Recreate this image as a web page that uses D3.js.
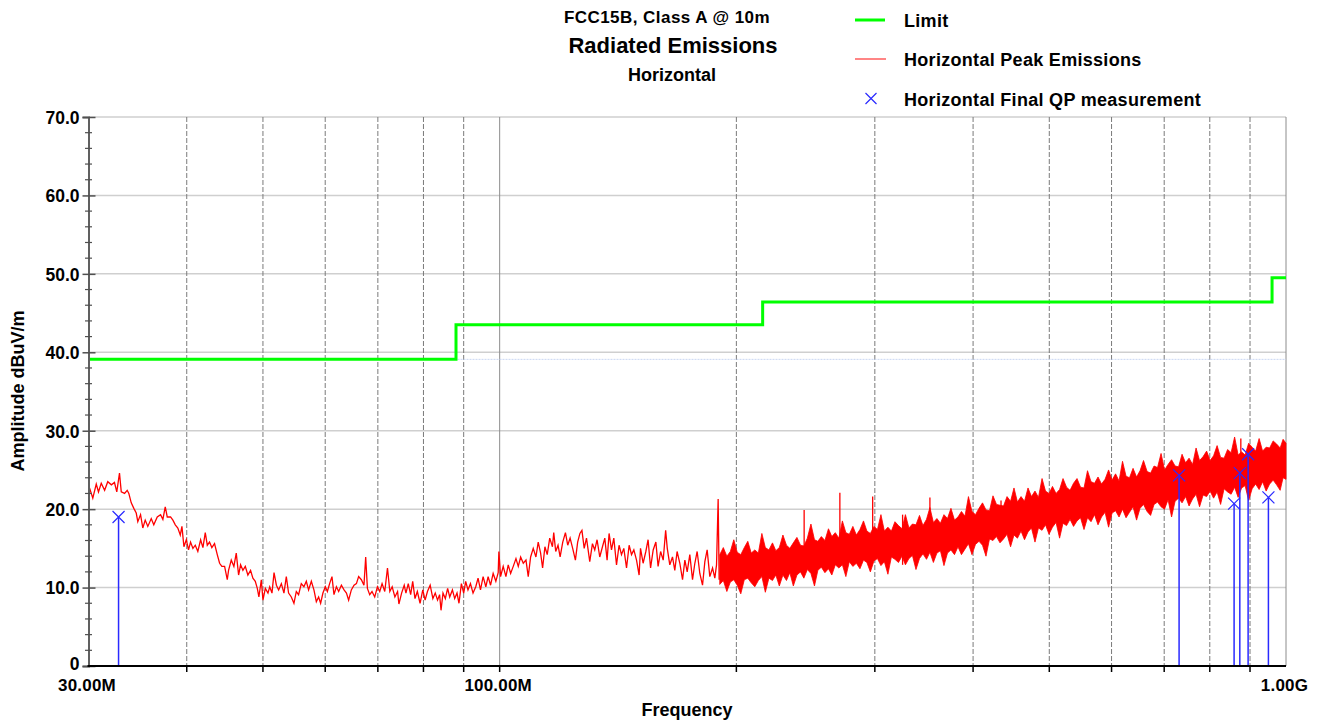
<!DOCTYPE html>
<html>
<head>
<meta charset="UTF-8">
<title>Radiated Emissions</title>
<script src="https://cdn.jsdelivr.net/npm/d3@7"></script>
<style>
body { margin: 0; background: #fff; font-family: 'Liberation Sans', Arial, sans-serif; }
svg text { font-weight: bold; fill: #000; }
</style>
</head>
<body>
<svg id="chart" width="1323" height="723"></svg>
<script>
// ---- data (frequency in MHz, level in dBuV/m) ----
const limitFreq = [30, 88, 216, 960, 1000];
const limitLevel = [39.1, 43.5, 46.4, 49.5, 49.5];

// peak trace, low band part (read point by point)
const peakFreq = [
  30.0,30.09,30.38,30.69,30.89,31.14,31.45,31.74,32.08,32.37,
  32.59,32.85,33.02,33.34,33.60,33.76,34.00,34.26,34.50,34.66,
  34.94,35.17,35.42,35.69,36.05,36.32,36.69,37.05,37.30,37.56,
  37.78,38.15,38.41,38.68,38.97,39.25,39.44,39.67,39.95,40.21,
  40.45,40.73,41.01,41.32,41.66,41.94,42.23,42.48,42.76,43.05,
  43.39,43.74,44.04,44.33,44.69,45.04,45.21,45.57,45.92,46.24,
  46.56,46.83,47.15,47.48,47.84,48.22,48.55,48.89,49.18,49.41,
  49.76,50.00,50.35,50.74,51.00,51.34,51.65,52.01,52.35,52.77,
  53.17,53.54,53.90,54.33,54.75,55.13,55.50,55.94,56.37,56.77,
  57.15,57.61,58.05,58.46,58.85,59.20,59.60,60.02,60.38,60.78,
  61.20,61.56,62.00,62.41,62.91,63.40,63.85,64.26,64.77,65.28,
  65.74,66.17,66.70,67.21,67.55,67.89,68.35,68.81,69.36,69.91,
  70.39,70.87,71.43,72.00,72.50,73.00,73.58,74.16,74.45,75.04,
  75.62,76.00,76.52,77.06,77.52,78.04,78.58,79.21,79.84,80.39,
  80.94,81.59,82.24,82.81,83.37,83.87,84.22,84.71,85.29,85.87,
  86.39,87.08,87.66,88.26,88.77,89.40,90.00,90.53,91.14,91.80,
  92.50,93.24,93.87,94.54,95.27,96.03,96.68,97.37,98.11,98.89,
  99.57,99.77,100.27,101.04,101.85,102.54,103.27,104.06,104.89,105.60,
  106.34,107.16,108.01,108.73,109.49,110.33,111.20,111.95,112.74,113.40,
  114.17,114.94,115.79,116.71,117.16,117.84,118.64,119.37,120.29,121.24,
  122.06,122.91,123.84,124.83,125.66,126.49,127.24,128.09,128.95,130.19,
  131.22,132.11,133.01,134.06,135.13,136.05,136.97,137.77,138.75,139.69,
  140.80,141.86,142.87,143.84,144.99,146.10,147.13,148.13,149.30,150.43,
  151.05,152.21,153.42,154.44,155.57,156.76,158.00,159.03,160.21,161.43,
  162.59,163.36,164.58,165.88,167.00,168.13,169.48,170.83,172.00,173.18,
  174.51,175.90,177.10,178.30,179.70,181.13,182.37,183.60,185.04,186.52,
  187.77,188.71,189.61,190.16
];
const peakLevel = [
  22.0,22.7,21.4,23.2,22.2,23.3,22.4,23.5,23.1,23.4,
  22.2,24.6,22.2,22.0,22.4,22.0,20.8,20.1,19.5,18.4,
  19.3,17.6,18.6,17.8,18.8,18.0,19.0,19.3,18.7,20.3,
  19.0,19.0,18.6,18.0,17.6,16.7,17.8,15.2,16.1,14.8,
  15.8,15.0,15.4,14.6,16.1,15.1,17.0,15.4,15.8,15.1,
  15.6,14.2,13.1,12.7,12.7,11.0,12.2,13.5,12.7,14.4,
  11.6,12.9,12.2,12.7,11.6,12.2,11.2,10.8,9.9,8.8,
  11.0,8.4,9.9,9.3,10.1,9.3,11.9,10.3,9.7,10.5,
  9.3,11.4,9.3,8.8,8.0,9.5,9.1,10.5,10.1,10.8,
  9.7,10.8,9.7,8.2,8.8,8.0,9.3,10.1,9.5,10.5,
  11.4,9.1,10.1,9.5,10.3,9.7,9.3,8.4,9.7,10.3,
  10.5,11.4,11.0,10.3,13.9,9.9,9.1,9.5,8.8,10.1,
  9.5,10.5,9.5,12.5,9.5,10.1,8.8,9.5,7.9,9.3,
  10.3,9.3,10.5,9.1,10.8,8.6,9.5,8.0,9.7,8.4,
  9.5,10.3,8.6,9.3,8.4,9.1,7.1,9.3,8.6,9.9,
  8.8,9.7,8.6,9.3,8.0,10.5,9.3,10.8,9.7,10.5,
  9.3,10.1,11.2,9.7,11.4,10.1,11.4,10.3,11.8,10.8,
  11.9,14.6,11.4,12.7,11.4,12.9,11.8,12.7,13.7,12.7,
  13.9,13.1,13.5,11.4,13.9,15.0,13.9,15.8,14.4,12.5,
  15.2,14.2,16.3,15.2,17.0,14.6,15.4,13.9,15.8,17.0,
  15.4,16.3,15.0,13.5,15.8,16.9,17.3,15.0,16.3,13.3,
  15.6,14.8,16.1,13.9,15.2,16.3,13.5,16.9,14.8,16.3,
  12.9,15.4,14.2,15.0,12.5,15.4,14.2,14.8,13.5,11.6,
  15.0,13.1,14.6,16.1,12.5,14.8,15.8,12.7,14.6,13.5,
  17.3,15.0,12.9,13.9,12.2,14.6,13.1,11.0,13.5,12.0,
  14.2,11.0,13.1,14.6,11.8,10.3,13.3,14.8,11.4,12.5,
  11.2,12.9,21.3,11.0
];

// above ~190 MHz the trace is a dense band: lower / upper edge
const bandFreq = [
  190.5,192.5,194.5,196.5,198.5,200.5,202.6,204.7,206.8,208.9,
  211.1,213.3,215.5,217.7,220.0,222.3,224.5,226.8,229.2,231.6,
  233.9,236.3,238.8,241.3,243.7,246.2,248.8,251.4,253.9,256.5,
  259.2,261.9,264.5,267.2,270.0,272.8,275.6,278.4,281.3,284.2,
  287.2,290.2,293.1,296.1,299.2,302.3,305.4,308.5,311.7,314.9,
  318.2,321.5,324.8,328.1,331.5,334.9,338.4,341.9,345.4,349.0,
  352.5,356.1,359.8,363.5,367.3,371.1,374.9,378.8,382.7,386.6,
  390.6,394.6,398.7,402.8,407.0,411.2,415.4,419.7,424.0,428.4,
  432.8,437.3,441.8,446.4,450.9,455.5,460.3,465.0,469.8,474.6,
  479.5,484.4,489.5,494.5,499.6,504.7,510.0,515.3,520.5,525.9,
  531.3,536.8,542.3,547.9,553.5,559.2,565.0,570.8,576.7,582.6,
  588.7,594.8,600.9,607.1,613.3,619.6,626.0,632.4,639.0,645.6,
  652.2,658.9,665.8,672.7,679.5,686.5,693.6,700.7,708.0,715.3,
  722.7,730.1,737.6,745.2,752.9,760.7,768.5,776.4,784.5,792.6,
  800.7,808.9,817.3,825.7,834.2,842.8,851.5,860.3,869.2,878.1,
  887.2,896.3,905.6,914.9,924.3,933.8,943.5,953.2,963.0,972.9,
  983.0,991.5,1000
];
const bandLow = [
  10.4,10.9,9.5,10.7,11.0,10.3,9.2,11.0,11.2,10.6,
  10.1,10.9,11.4,9.4,11.2,10.9,11.6,10.2,11.6,10.9,
  11.9,10.2,11.6,12.0,11.2,12.3,11.8,10.2,12.2,12.6,
  11.9,12.4,11.6,12.9,12.5,12.9,11.4,13.3,12.7,13.1,
  12.4,13.5,13.2,12.0,13.4,13.7,12.8,13.3,11.7,13.9,
  13.6,13.2,14.0,12.9,13.7,14.1,12.3,13.7,14.3,13.6,
  14.5,13.2,14.4,14.7,12.8,14.4,14.8,14.2,15.2,14.2,
  14.9,15.6,14.2,15.5,15.9,15.4,14.0,16.2,16.0,16.5,
  15.7,16.2,16.8,15.2,16.7,16.3,17.2,16.1,17.1,17.6,
  15.8,17.6,17.3,18.0,16.8,17.7,18.3,16.3,18.2,17.9,
  18.7,17.8,18.5,18.9,17.4,18.9,18.4,19.3,18.0,19.0,
  19.6,17.7,19.5,19.8,19.0,20.0,18.9,19.6,20.3,18.6,
  20.1,20.6,19.7,19.2,20.6,20.9,20.3,20.0,21.2,19.0,
  21.0,21.4,20.8,21.6,20.4,21.3,21.9,20.3,21.8,21.6,
  22.3,21.4,22.2,20.6,22.6,22.2,21.9,22.8,21.5,22.7,
  23.0,21.1,22.6,23.2,22.5,23.5,22.3,23.2,23.7,23.1,
  22.4,24.0,23.8
];
const bandHigh = [
  14.2,15.1,14.0,14.6,16.1,14.5,14.2,15.1,15.9,14.4,
  14.8,14.4,16.9,15.1,14.8,15.7,14.7,15.1,16.7,15.4,
  15.0,15.7,16.4,15.4,15.3,16.3,18.1,16.1,15.9,16.5,
  16.0,17.5,16.5,17.0,16.3,18.5,17.0,16.8,17.8,16.7,
  17.4,18.5,17.2,16.9,17.8,17.4,19.3,17.2,17.7,17.2,
  18.4,17.9,17.5,19.3,17.6,18.1,18.0,19.2,17.9,18.7,
  20.2,18.3,18.8,18.2,19.3,18.8,20.1,18.6,19.0,19.7,
  19.1,21.6,19.7,19.3,20.1,20.8,19.9,19.8,21.7,20.6,
  20.5,20.4,21.6,21.0,22.7,20.9,21.6,21.0,22.7,21.6,
  22.3,21.5,23.9,22.3,22.0,22.9,22.0,22.5,23.9,22.8,
  22.4,23.3,23.9,22.8,22.7,24.9,23.5,23.3,24.1,23.2,
  23.8,25.0,23.7,24.5,23.6,26.1,24.2,24.0,25.2,24.1,
  24.9,26.2,24.8,24.6,25.5,25.3,27.1,25.0,25.7,26.3,
  25.5,25.4,27.0,25.9,26.5,25.7,27.8,26.2,26.7,27.4,
  26.2,26.8,28.1,26.6,26.5,27.6,27.2,29.2,26.9,27.3,
  26.9,28.4,27.9,27.4,29.0,27.4,27.9,27.8,28.7,28.3,
  27.8,28.9,28.4
];
// narrow spikes sticking out of the band
const spikeFreq = [243.9, 270.8, 298.1, 325.4, 352.5, 434.1, 876.1];
const spikeLevel = [19.9, 22.1, 21.6, 19.3, 21.5, 21.1, 29.0];

// final quasi-peak measurements
const qpFreq = [32.76, 731.2, 859.0, 873.5, 895.0, 949.8];
const qpLevel = [19.0, 24.3, 20.7, 24.6, 27.0, 21.5];

const yTicks = [0, 10, 20, 30, 40, 50, 60, 70];
const xGrid = [40, 50, 60, 70, 80, 90, 100, 200, 300, 400, 500, 600, 700, 800, 900, 1000];
const xLabelFreq = [30, 100, 1000];
const xLabelText = ["30.00M", "100.00M", "1.00G"];
const titles = ["FCC15B, Class A  @ 10m", "Radiated Emissions", "Horizontal"];
const legendLabels = ["Limit", "Horizontal Peak Emissions", "Horizontal Final QP measurement"];

// ---- chart ----
const svg = d3.select("#chart");
const plotLeft = 88.5, plotRight = 1286, plotTop = 117, plotBottom = 666;

const x = d3.scaleLog().domain([30, 1000]).range([plotLeft, plotRight]);
const y = d3.scaleLinear().domain([0, 70]).range([plotBottom, plotTop]);

// horizontal grid
svg.append("g").selectAll("line")
  .data(yTicks.filter(d => d > 0))
  .enter().append("line")
  .attr("x1", plotLeft).attr("x2", plotRight)
  .attr("y1", d => y(d)).attr("y2", d => y(d))
  .attr("stroke", "#cfcfcf").attr("stroke-width", 1.5);

// vertical grid (dashed)
svg.append("g").selectAll("line")
  .data(xGrid)
  .enter().append("line")
  .attr("x1", d => x(d)).attr("x2", d => x(d))
  .attr("y1", plotTop).attr("y2", plotBottom)
  .attr("stroke", d => (d === 100 || d === 1000) ? "#8c8c8c" : "#7a7a7a")
  .attr("stroke-width", 1)
  .attr("stroke-dasharray", d => (d === 100 || d === 1000) ? null : "5,2");

// faint reference line at the first limit level
svg.append("line")
  .attr("x1", plotLeft).attr("x2", plotRight)
  .attr("y1", y(limitLevel[0])).attr("y2", y(limitLevel[0]))
  .attr("stroke", "#c9d6f2").attr("stroke-width", 1)
  .attr("stroke-dasharray", "2,1");

// limit line
const limitData = limitFreq.map((f, i) => [f, limitLevel[i]]);
svg.append("path")
  .datum(limitData)
  .attr("fill", "none")
  .attr("stroke", "#00ff00")
  .attr("stroke-width", 3)
  .attr("d", d3.line().x(d => x(d[0])).y(d => y(d[1])).curve(d3.curveStepAfter));

// peak emissions: thin trace
const peakData = peakFreq.map((f, i) => [f, peakLevel[i]]);
svg.append("path")
  .datum(peakData)
  .attr("fill", "none")
  .attr("stroke", "#ff0000")
  .attr("stroke-width", 1.3)
  .attr("d", d3.line().x(d => x(d[0])).y(d => y(d[1])));

// peak emissions: dense band
const bandData = bandFreq.map((f, i) => ({ f: f, lo: bandLow[i], hi: bandHigh[i] }));
svg.append("path")
  .datum(bandData)
  .attr("fill", "#ff0000")
  .attr("stroke", "#ff0000")
  .attr("stroke-width", 0.8)
  .attr("d", d3.area().x(d => x(d.f)).y0(d => y(d.lo)).y1(d => y(d.hi)));

// spikes
svg.append("g").selectAll("line")
  .data(spikeFreq.map((f, i) => [f, spikeLevel[i]]))
  .enter().append("line")
  .attr("x1", d => x(d[0])).attr("x2", d => x(d[0]))
  .attr("y1", d => y(d[1]))
  .attr("y2", d => y(bandLow[d3.bisectLeft(bandFreq, d[0])]))
  .attr("stroke", "#ff0000").attr("stroke-width", 1.3);

// QP measurements
const qpData = qpFreq.map((f, i) => [f, qpLevel[i]]);
const qp = svg.append("g");
qp.selectAll("line.stem")
  .data(qpData)
  .enter().append("line")
  .attr("class", "stem")
  .attr("x1", d => x(d[0])).attr("x2", d => x(d[0]))
  .attr("y1", plotBottom).attr("y2", d => y(d[1]))
  .attr("stroke", "#2a2aff").attr("stroke-width", 1.5);
qp.selectAll("path")
  .data(qpData)
  .enter().append("path")
  .attr("transform", d => "translate(" + x(d[0]) + "," + y(d[1]) + ")")
  .attr("d", "M-6,-6L6,6M-6,6L6,-6")
  .attr("stroke", "#2a2aff").attr("stroke-width", 1.2).attr("fill", "none");

// y axis
const yAxis = svg.append("g")
  .attr("transform", "translate(" + plotLeft + ",0)")
  .call(d3.axisLeft(y).tickValues(yTicks).tickSize(6).tickPadding(4)
    .tickFormat(d => d === 0 ? "0" : d.toFixed(1)));
yAxis.select(".domain").attr("stroke", "#606060").attr("stroke-width", 2);
yAxis.selectAll(".tick line").attr("x1", 7).attr("stroke", "#505050").attr("stroke-width", 1.5);
yAxis.selectAll(".tick text")
  .attr("font-size", "17.5px").attr("font-family", "'Liberation Sans', Arial, sans-serif")
  .attr("dy", d => d === 0 ? "0.22em" : "0.36em").attr("x", -9);
yAxis.append("g").selectAll("line")
  .data(d3.range(0, 70, 2).filter(d => d % 10 !== 0))
  .enter().append("line")
  .attr("x1", -3.5).attr("x2", 3.5)
  .attr("y1", d => y(d)).attr("y2", d => y(d))
  .attr("stroke", "#505050").attr("stroke-width", 1.2);

// x axis
svg.append("line")
  .attr("x1", plotLeft - 1).attr("x2", plotRight)
  .attr("y1", plotBottom).attr("y2", plotBottom)
  .attr("stroke", "#000").attr("stroke-width", 2);
svg.append("g").selectAll("line")
  .data(xGrid.filter(d => d < 1000))
  .enter().append("line")
  .attr("x1", d => x(d)).attr("x2", d => x(d))
  .attr("y1", plotBottom).attr("y2", plotBottom + 6)
  .attr("stroke", "#000").attr("stroke-width", 1.5);
svg.append("g").selectAll("text")
  .data(xLabelFreq)
  .enter().append("text")
  .attr("x", d => x(d) - 1.5)
  .attr("y", 690.5)
  .attr("text-anchor", "middle")
  .attr("font-size", "17px")
  .attr("letter-spacing", "0.2px")
  .text((d, i) => xLabelText[i]);

// axis titles
svg.append("text")
  .attr("transform", "translate(24,391) rotate(-90)")
  .attr("text-anchor", "middle")
  .attr("font-size", "18px")
  .text("Amplitude dBuV/m");
svg.append("text")
  .attr("x", 687).attr("y", 716)
  .attr("text-anchor", "middle")
  .attr("font-size", "18px")
  .text("Frequency");

// titles
svg.append("text").attr("x", 667).attr("y", 22.5).attr("text-anchor", "middle")
  .attr("font-size", "17px").attr("letter-spacing", "0.45px").text(titles[0]);
svg.append("text").attr("x", 673).attr("y", 52.5).attr("text-anchor", "middle")
  .attr("font-size", "22px").text(titles[1]);
svg.append("text").attr("x", 672).attr("y", 81).attr("text-anchor", "middle")
  .attr("font-size", "18px").text(titles[2]);

// legend
const legend = svg.append("g");
const legendY = [20, 59, 98.5];
legend.append("line").attr("x1", 855).attr("x2", 885).attr("y1", legendY[0]).attr("y2", legendY[0])
  .attr("stroke", "#00ff00").attr("stroke-width", 3);
legend.append("line").attr("x1", 855).attr("x2", 886).attr("y1", legendY[1]).attr("y2", legendY[1])
  .attr("stroke", "#ff3333").attr("stroke-width", 1.2);
legend.append("path").attr("transform", "translate(871," + legendY[2] + ")")
  .attr("d", "M-5.5,-5.5L5.5,5.5M-5.5,5.5L5.5,-5.5")
  .attr("stroke", "#2a2aff").attr("stroke-width", 1.2);
legend.selectAll("text")
  .data(legendLabels)
  .enter().append("text")
  .attr("x", 904)
  .attr("y", (d, i) => legendY[i] + 7)
  .attr("font-size", "18px")
  .attr("letter-spacing", "0.3px")
  .text(d => d);
</script>
</body>
</html>
